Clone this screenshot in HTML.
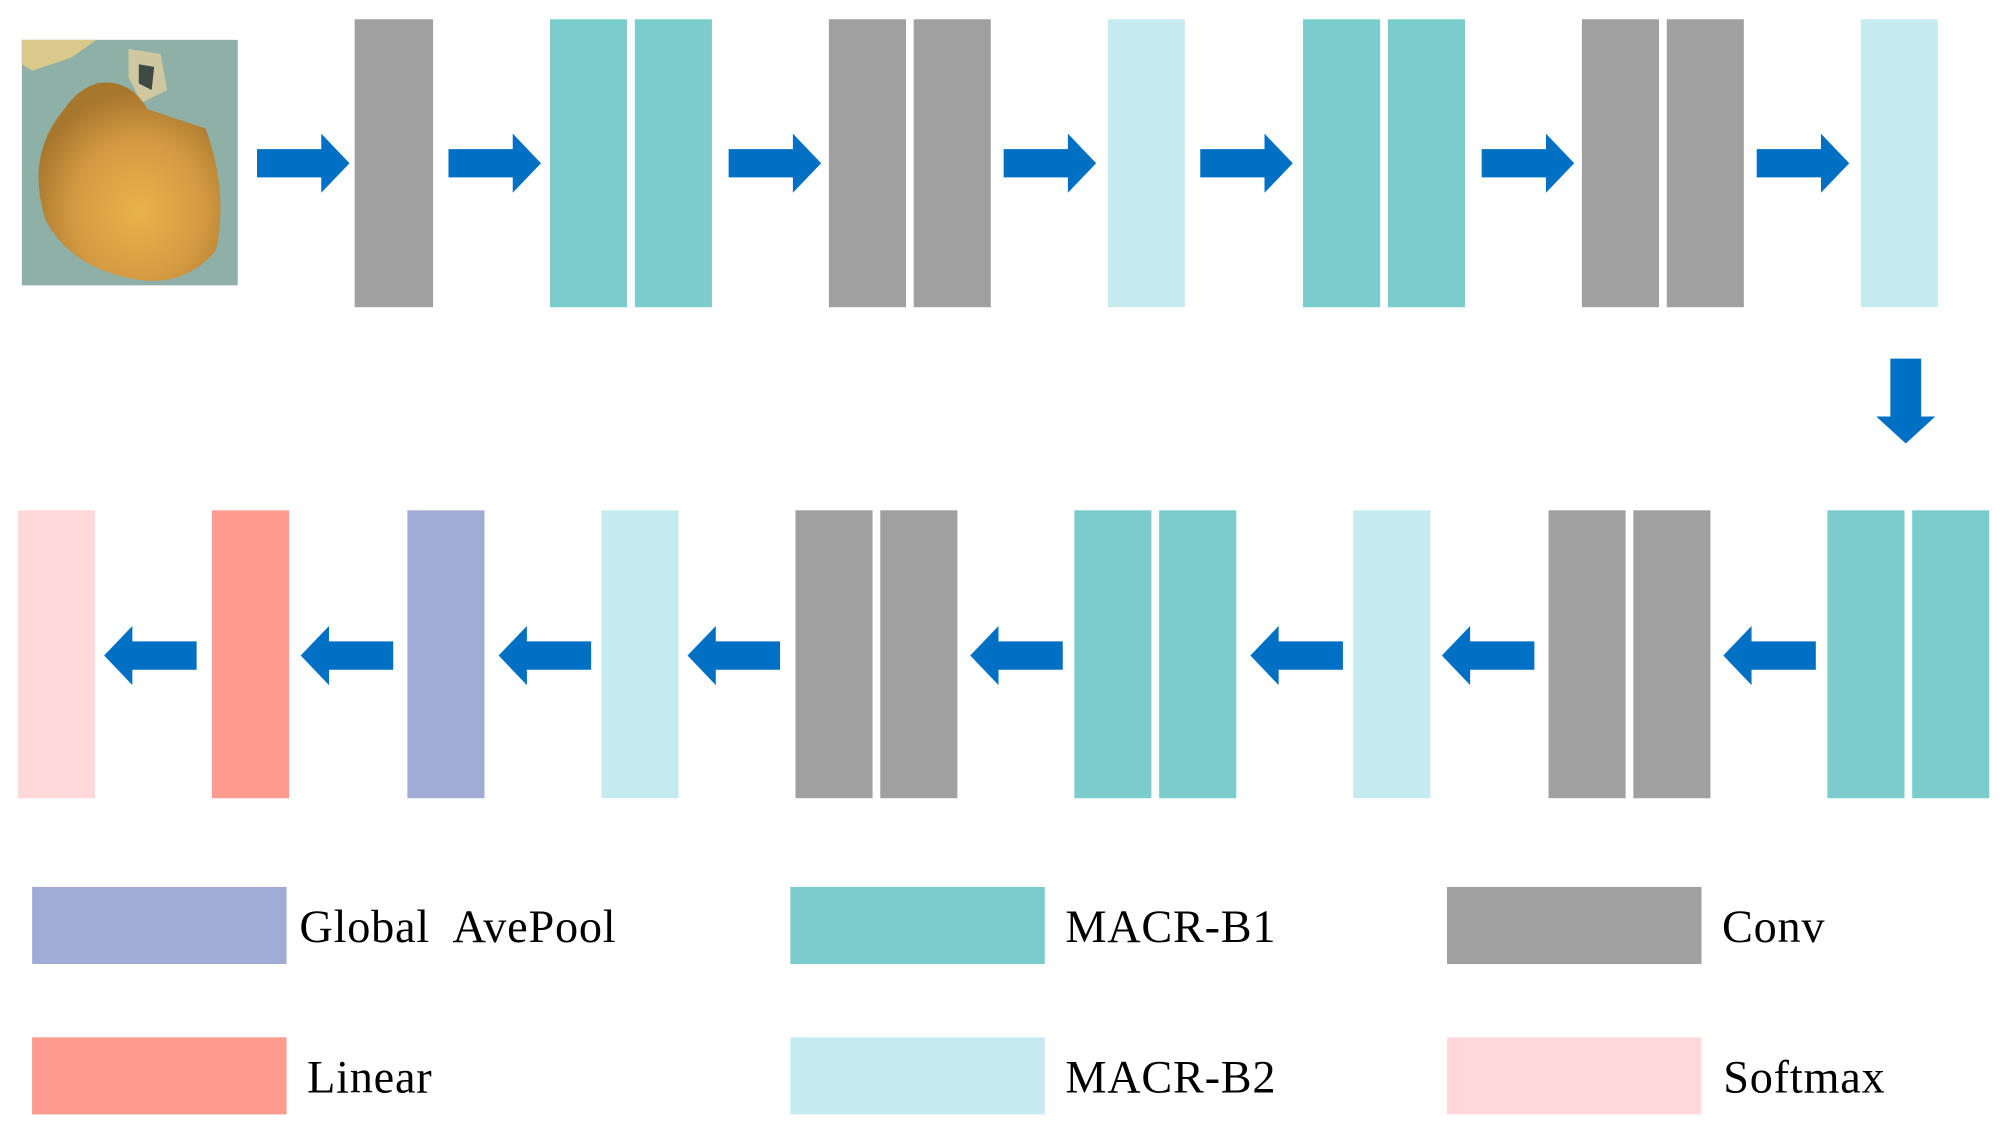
<!DOCTYPE html>
<html><head><meta charset="utf-8"><style>html,body{margin:0;padding:0;background:#fff}svg{display:block}</style></head>
<body>
<svg width="2015" height="1135" viewBox="0 0 1568 883" preserveAspectRatio="none" xmlns="http://www.w3.org/2000/svg">
<defs>
<radialGradient id="k" cx="0.55" cy="0.65" r="0.6">
<stop offset="0" stop-color="#e8b24a"/><stop offset="0.6" stop-color="#d49a42"/><stop offset="1" stop-color="#a8772e"/>
</radialGradient>
<g id="ar"><polygon points="0,-11 50,-11 50,-23 72,0 50,23 50,11 0,11" fill="#0070c4"/></g>
</defs>
<rect width="1568" height="883" fill="#fff"/>
<rect x="17" y="31" width="168" height="191" fill="#8fb0a6"/>
<path d="M17,31 L75,31 L55,45 L25,55 L17,50Z" fill="#d9c98a"/>
<path d="M100,38 L125,42 L130,70 L110,80 L100,60Z" fill="#cfc7a0"/>
<path d="M108,50 L120,52 L118,70 L108,65Z" fill="#3e4a44"/>
<path d="M75,65 Q100,60 115,85 Q145,95 160,100 Q178,150 168,195 Q145,222 110,218 Q55,210 35,170 Q20,120 50,85 Q60,70 75,65Z" fill="url(#k)"/>
<g>
<rect x="276" y="15" width="61" height="224" fill="#a0a0a0"/>
<rect x="428" y="15" width="60" height="224" fill="#7acdcc"/><rect x="494" y="15" width="60" height="224" fill="#7acdcc"/>
<rect x="645" y="15" width="60" height="224" fill="#a0a0a0"/><rect x="711" y="15" width="60" height="224" fill="#a0a0a0"/>
<rect x="862" y="15" width="60" height="224" fill="#c5ebf1"/>
<rect x="1014" y="15" width="60" height="224" fill="#7acdcc"/><rect x="1080" y="15" width="60" height="224" fill="#7acdcc"/>
<rect x="1231" y="15" width="60" height="224" fill="#a0a0a0"/><rect x="1297" y="15" width="60" height="224" fill="#a0a0a0"/>
<rect x="1448" y="15" width="60" height="224" fill="#c5ebf1"/>
</g>
<g>
<use href="#ar" transform="translate(200,127)"/><use href="#ar" transform="translate(349,127)"/>
<use href="#ar" transform="translate(567,127)"/><use href="#ar" transform="translate(781,127)"/>
<use href="#ar" transform="translate(934,127)"/><use href="#ar" transform="translate(1153,127)"/>
<use href="#ar" transform="translate(1367,127)"/>
</g>
<polygon points="1471,279 1495,279 1495,324 1506,324 1483,345 1460,324 1471,324" fill="#0070c4"/>
<g>
<rect x="14" y="397" width="60" height="224" fill="#ffd9d9"/>
<rect x="165" y="397" width="60" height="224" fill="#fd9b8f"/>
<rect x="317" y="397" width="60" height="224" fill="#a0acd5"/>
<rect x="468" y="397" width="60" height="224" fill="#c5ebf1"/>
<rect x="619" y="397" width="60" height="224" fill="#a0a0a0"/><rect x="685" y="397" width="60" height="224" fill="#a0a0a0"/>
<rect x="836" y="397" width="60" height="224" fill="#7acdcc"/><rect x="902" y="397" width="60" height="224" fill="#7acdcc"/>
<rect x="1053" y="397" width="60" height="224" fill="#c5ebf1"/>
<rect x="1205" y="397" width="60" height="224" fill="#a0a0a0"/><rect x="1271" y="397" width="60" height="224" fill="#a0a0a0"/>
<rect x="1422" y="397" width="60" height="224" fill="#7acdcc"/><rect x="1488" y="397" width="60" height="224" fill="#7acdcc"/>
</g>
<g>
<use href="#ar" transform="translate(153,510) scale(-1,1)"/><use href="#ar" transform="translate(306,510) scale(-1,1)"/>
<use href="#ar" transform="translate(460,510) scale(-1,1)"/><use href="#ar" transform="translate(607,510) scale(-1,1)"/>
<use href="#ar" transform="translate(827,510) scale(-1,1)"/><use href="#ar" transform="translate(1045,510) scale(-1,1)"/>
<use href="#ar" transform="translate(1194,510) scale(-1,1)"/><use href="#ar" transform="translate(1413,510) scale(-1,1)"/>
</g>
<rect x="25" y="690" width="198" height="60" fill="#a0acd5"/>
<rect x="615" y="690" width="198" height="60" fill="#7acdcc"/>
<rect x="1126" y="690" width="198" height="60" fill="#a0a0a0"/>
<rect x="25" y="807" width="198" height="60" fill="#fd9b8f"/>
<rect x="615" y="807" width="198" height="60" fill="#c5ebf1"/>
<rect x="1126" y="807" width="198" height="60" fill="#ffd9d9"/>
<g font-family="Liberation Serif, serif" font-size="36" fill="#000" letter-spacing="0.6">
<text x="233" y="733" word-spacing="10">Global AvePool</text>
<text x="829" y="733">MACR-B1</text>
<text x="1340" y="733">Conv</text>
<text x="239" y="850">Linear</text>
<text x="829" y="850">MACR-B2</text>
<text x="1341" y="850">Softmax</text>
</g>
</svg>
</body></html>
